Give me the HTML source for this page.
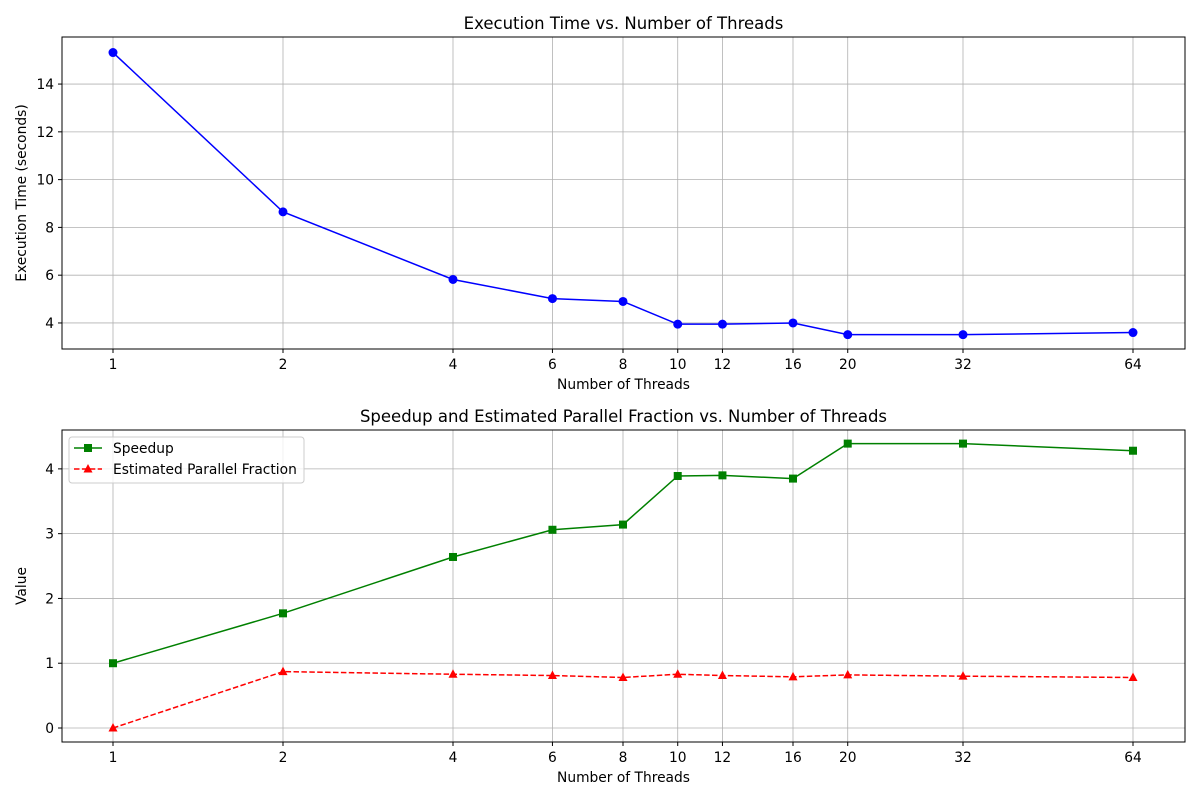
<!DOCTYPE html>
<html><head><meta charset="utf-8"><style>
body{margin:0;background:#fff;}
svg{display:block;font-family:"DejaVu Sans","Liberation Sans",sans-serif;}
</style></head><body>
<svg id="s" width="1200" height="800" xmlns="http://www.w3.org/2000/svg"></svg>
<script>
const threads=[1,2,4,6,8,10,12,16,20,32,64];
const execTime=[15.32,8.65,5.82,5.02,4.90,3.95,3.95,4.00,3.51,3.51,3.60];
const speedup=[1.00,1.77,2.64,3.06,3.14,3.89,3.90,3.85,4.39,4.39,4.28];
const parFrac=[0.00,0.87,0.83,0.81,0.78,0.83,0.81,0.79,0.82,0.80,0.78];
const topTicks=[4,6,8,10,12,14];
const botTicks=[0,1,2,3,4];

const NS="http://www.w3.org/2000/svg";
const svg=document.getElementById('s');
const FS=13.8;
function el(tag,attrs,parent){const e=document.createElementNS(NS,tag);for(const k in attrs)e.setAttribute(k,attrs[k]);(parent||svg).appendChild(e);return e;}
function txt(x,y,s,attrs){const t=el('text',Object.assign({x:x,y:y,'font-size':FS,fill:'#000'},attrs||{}));t.textContent=s;return t;}
const X0=62,X1=1185;
function xs(v){return 113+170*Math.log2(v);}

function panel(name,top,bot,ymin,ymax,ticks,title,ylabel){
  const g=el('g',{});
  
  
  const ys=v=>bot-(v-ymin)/(ymax-ymin)*(bot-top);
  threads.forEach(t=>{const l=el('line',{x1:xs(t),x2:xs(t),y1:top,y2:bot,stroke:'#b0b0b0','stroke-width':0.8},g);
    });
  ticks.forEach(v=>{const l=el('line',{x1:X0,x2:X1,y1:ys(v),y2:ys(v),stroke:'#b0b0b0','stroke-width':0.8},g);
    });
  el('rect',{x:X0,y:top,width:X1-X0,height:bot-top,fill:'none',stroke:'#000','stroke-width':1},g);
  threads.forEach(t=>{el('line',{x1:xs(t),x2:xs(t),y1:bot,y2:bot+4,stroke:'#000'},g);
    const l=txt(xs(t),bot+20,String(t),{'text-anchor':'middle'});g.appendChild(l);
    });
  ticks.forEach(v=>{el('line',{x1:X0-4,x2:X0,y1:ys(v),y2:ys(v),stroke:'#000'},g);
    const l=txt(X0-8,ys(v)+5,String(v),{'text-anchor':'end'});g.appendChild(l);
    });
  const tt=txt((X0+X1)/2,top-8,title,{'text-anchor':'middle','font-size':16.5});g.appendChild(tt);
  
  const xl=txt((X0+X1)/2,bot+40,'Number of Threads',{'text-anchor':'middle'});g.appendChild(xl);
  
  const cy=(top+bot)/2;
  const yl=txt(0,0,ylabel,{'text-anchor':'middle',transform:`translate(26,${cy}) rotate(-90)`});g.appendChild(yl);
  
  return ys;
}
function series(name,vals,ys,color,marker,dash){
  const g=el('g',{});
  
  
  const pts=threads.map((t,i)=>xs(t)+','+ys(vals[i])).join(' ');
  const a={points:pts,fill:'none',stroke:color,'stroke-width':1.5};
  if(dash)a['stroke-dasharray']='5.5,2.4';
  el('polyline',a,g);
  threads.forEach((t,i)=>{mark(g,xs(t),ys(vals[i]),color,marker);});
}
function mark(g,x,y,color,m){
  let e;
  if(m==='o')e=el('circle',{cx:x,cy:y,r:4.5,fill:color},g);
  else if(m==='s')e=el('rect',{x:x-4,y:y-4,width:8,height:8,fill:color},g);
  else e=el('polygon',{points:`${x},${y-5} ${x-4.5},${y+3.5} ${x+4.5},${y+3.5}`,fill:color},g);
  
}
const ys1=panel('execution-time-chart',37,349,2.91,15.97,topTicks,'Execution Time vs. Number of Threads','Execution Time (seconds)');
series('execution-time-line',execTime,ys1,'#0000ff','o',false);
const ys2=panel('speedup-chart',430,742,-0.216,4.6,botTicks,'Speedup and Estimated Parallel Fraction vs. Number of Threads','Value');
series('speedup-line',speedup,ys2,'#008000','s',false);
series('parallel-fraction-line',parFrac,ys2,'#ff0000','^',true);
const lg=el('g',{});


el('rect',{x:69,y:437,width:235,height:46,rx:3,fill:'#fff','fill-opacity':0.8,stroke:'#ccc'},lg);
el('line',{x1:74,x2:102,y1:448,y2:448,stroke:'#008000','stroke-width':1.5},lg);
mark(lg,88,448,'#008000','s');
const t1=txt(113,453,'Speedup');lg.appendChild(t1);

el('line',{x1:74,x2:102,y1:469,y2:469,stroke:'#ff0000','stroke-width':1.5,'stroke-dasharray':'5.5,2.4'},lg);
mark(lg,88,469,'#ff0000','^');
const t2=txt(113,474,'Estimated Parallel Fraction');lg.appendChild(t2);

</script>
</body></html>
